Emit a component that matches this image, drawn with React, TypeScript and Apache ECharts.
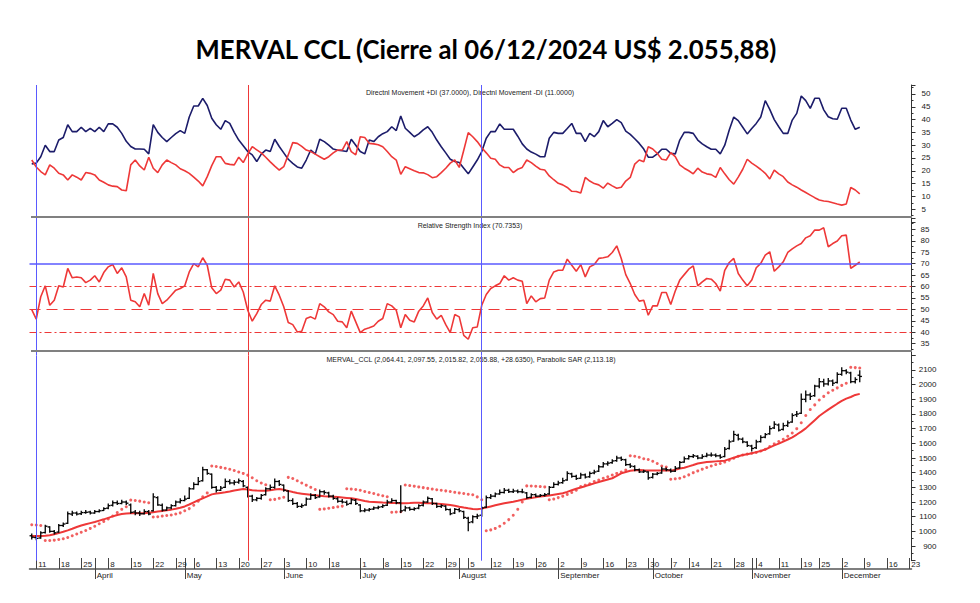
import React, { useEffect, useRef } from "react";
import * as echarts from "echarts";

// ---- categories: trading days (month, day list) ----
const MONTH_DAYS: [number, number[]][] = [
  [3, [8, 11, 12, 13, 14, 15, 18, 19, 20, 21, 22, 25, 26, 27]],
  [4, [3, 4, 5, 8, 9, 10, 11, 12, 15, 16, 17, 18, 19, 22, 23, 24, 25, 26, 29, 30]],
  [5, [2, 3, 6, 7, 8, 9, 10, 13, 14, 15, 16, 17, 20, 21, 22, 23, 24, 27, 28, 29, 30, 31]],
  [6, [3, 4, 5, 6, 7, 10, 11, 12, 13, 14, 18, 19, 24, 25, 26, 27, 28]],
  [7, [1, 2, 3, 4, 5, 8, 10, 11, 12, 15, 16, 17, 18, 19, 22, 23, 24, 25, 26, 29, 30, 31]],
  [8, [1, 2, 5, 6, 7, 8, 9, 12, 13, 14, 15, 16, 19, 20, 21, 22, 23, 26, 27, 28, 29, 30]],
  [9, [2, 3, 4, 5, 6, 9, 10, 11, 12, 13, 16, 17, 18, 19, 20, 23, 24, 25, 26, 27, 30]],
  [10, [1, 2, 3, 4, 7, 8, 9, 10, 14, 15, 16, 17, 18, 21, 22, 23, 24, 25, 28, 29, 30, 31]],
  [11, [1, 4, 5, 6, 7, 8, 11, 12, 13, 14, 15, 19, 20, 21, 22, 25, 26, 27, 28, 29]],
  [12, [2, 3, 4, 5, 6, 9, 10, 11, 12, 13, 16, 17, 18, 19, 20, 23]],
];
const MONTH_NAMES = ["", "January", "February", "March", "April", "May", "June", "July", "August", "September", "October", "November", "December"];
const pad = (n: number) => (n < 10 ? "0" + n : String(n));
const categories: string[] = [];
MONTH_DAYS.forEach(([m, days]) => days.forEach((d) => categories.push(`2024-${pad(m)}-${pad(d)}`)));

// tick labels
const weekLabelDates = [
  "03-11", "03-18", "03-25", "04-08", "04-15", "04-22", "04-29", "05-06", "05-13", "05-20", "05-27",
  "06-03", "06-10", "06-18", "07-01", "07-08", "07-15", "07-22", "07-29", "08-05", "08-12", "08-19", "08-26",
  "09-02", "09-09", "09-16", "09-23", "09-30", "10-07", "10-14", "10-21", "10-28", "11-04", "11-11", "11-19", "11-25",
  "12-02", "12-09", "12-16", "12-23",
].map((s) => "2024-" + s);
const monthStartDates = ["04-03", "05-02", "06-03", "07-01", "08-01", "09-02", "10-01", "11-01", "12-02"].map((s) => "2024-" + s);
const blueMarkers = ["2024-03-11", "2024-08-08"];
const redMarkers = ["2024-05-22"];

// ---- indicator values ----
const plusDI = [
  22.7, 23, 25.5, 30, 27.5, 27.5, 32, 33, 38, 35.3,
  35.3, 37, 35.3, 36.6, 35.3, 37, 35.3, 38.3, 38.3, 37,
  34.6, 31.5, 29.5, 28.5, 28.5, 28.4, 26.6, 38, 35, 33,
  31.4, 33, 34.5, 35.7, 34.6, 41, 45.3, 45.3, 48.3, 45.5,
  40.5, 38, 36.2, 39.6, 38.5, 35, 32, 29.8, 27.5, 26.2,
  23.6, 26.5, 28.1, 27.5, 32.3, 29.5, 27, 24.5, 22.9, 21.5,
  21, 24.2, 28.1, 26.6, 32.3, 31.4, 30, 28.5, 28, 27.8,
  27.5, 32.3, 30, 27.5, 26.6, 32, 31.4, 33.3, 34.5, 35.3,
  37.2, 35.7, 41.4, 36.6, 35, 33.3, 34.4, 36, 37.2, 35,
  32, 29.4, 27, 24.5, 23.6, 23.2, 21, 18.8, 21.5, 24.2,
  27.5, 32.7, 35.3, 35.3, 38.3, 36.2, 36.2, 36.2, 33.5, 30.5,
  28.5, 27.3, 26.5, 25.5, 25.5, 32.7, 35, 34.6, 34.6, 36.5,
  38.5, 34.6, 34.6, 31.4, 34.6, 33.3, 35.3, 39.6, 37.2, 38.5,
  40, 38.8, 35.5, 34.2, 32.5, 30.7, 28.5, 25.3, 25.3, 26.6,
  28.4, 28.4, 26.8, 26.6, 32, 35, 35, 34.6, 32, 30.5,
  29.4, 28.4, 28.4, 26.6, 30, 35.9, 41, 39.6, 37, 34.4,
  36.5, 38.5, 41, 47.4, 44, 40, 37.2, 34.6, 34.6, 39.8,
  42.4, 49.2, 47.4, 44.4, 48.3, 48.3, 43.8, 41.1, 40.3, 40.1,
  44.4, 44.4, 39.8, 36.2, 37,
];
const minusDI = [
  24.2, 21.5, 19.7, 18.4, 22.3, 21, 19, 18.4, 16.4, 18.4,
  17.5, 16.4, 19.3, 19, 18.4, 16.4, 15.5, 14.5, 14, 13.8,
  12.5, 12.2, 22.3, 24.2, 21.9, 20.3, 25.3, 21, 19.3, 22.3,
  24.2, 23.2, 22.3, 20.8, 20, 19, 17.5, 16, 14.1, 17.7,
  22, 25.5, 25.5, 22.9, 22.5, 22.3, 25.3, 23.2, 26.6, 29.4,
  28.2, 27, 25.3, 23.5, 21.8, 20.3, 21.6, 26.2, 31, 30.7,
  29.5, 28.1, 27.5, 26.5, 25.5, 24.5, 25.5, 27, 28.1, 28.1,
  31.4, 27.5, 26.2, 33.3, 33, 30.7, 30.5, 30.2, 29.4, 27.5,
  25.5, 24.2, 18.6, 21.6, 20.8, 20, 19.3, 19.2, 18.5, 17.3,
  17.7, 19.3, 21, 23, 24.2, 21.3, 28, 34.9, 33.3, 31.4,
  29, 27, 24.9, 24.5, 22.3, 21.3, 21.3, 19.3, 20.6, 21.3,
  24.2, 23.2, 21.8, 20.6, 20.3, 18, 16.5, 15.1, 14.5, 13.5,
  12, 11.9, 11.3, 17.4, 16, 15, 14.5, 13.2, 15.2, 14.1,
  13.2, 13.6, 16, 17.4, 22.6, 24.2, 23.5, 29.4, 28.5, 26.8,
  24.5, 24.2, 27.1, 25.5, 22.3, 21, 20, 18.8, 21, 19.5,
  18.8, 18.5, 17.4, 21.3, 18.8, 16.5, 14.8, 17.5, 20.6, 24.5,
  23, 21.8, 20.5, 19, 16.8, 20.3, 18.8, 17.7, 15.6, 14.5,
  13.6, 12.5, 11.5, 10.5, 9.5, 8.6, 8.2, 8, 7.5, 7,
  6.6, 7, 13.5, 12.5, 11,
];
const rsi = [
  49.9, 45.7, 55.5, 60.3, 51.8, 54, 60.3, 59.8, 67.9, 63.8,
  64.2, 63.8, 61.7, 62.8, 64.7, 62, 66.1, 68.6, 69.6, 65.7,
  68.2, 64.2, 54, 53.3, 51.1, 56.9, 51.8, 65.7, 56.9, 52.5,
  54, 56.2, 58.4, 59.1, 60.3, 66.4, 70, 68.6, 72.6, 69.3,
  59.4, 56.9, 58.4, 63.2, 62.8, 59.8, 62, 57.6, 49.6, 44.8,
  48.1, 52.1, 54, 53.6, 60.3, 56.2, 51.1, 44.2, 43.3, 40.1,
  40.4, 46, 46.7, 45.7, 52.5, 51.1, 48.9, 47.7, 44.8, 44.5,
  41.9, 49.2, 44.5, 39.8, 41.3, 41.9, 42.7, 44.8, 46, 52.5,
  51.5, 49.6, 41.9, 47.7, 45.2, 44.5, 49.2, 51.5, 55, 48.6,
  45.7, 47.4, 43.3, 39.8, 47.7, 46.7, 38.6, 36.9, 41.9, 42.3,
  51.8, 56.5, 59.1, 60.3, 61.3, 64.7, 62.8, 63.8, 62.8, 62.3,
  52.5, 55.9, 53.3, 54.7, 55, 62.8, 66.4, 67.1, 67.1, 72,
  69.3, 66.7, 69.6, 64.2, 68.6, 69.6, 72.3, 72.6, 73, 74.9,
  77.8, 72.3, 65.2, 61.3, 56.5, 53.6, 54, 47.4, 51.5, 51.5,
  57.4, 57.4, 52.1, 58, 62.8, 65.2, 67.6, 69, 60.3, 62,
  63.5, 63.2, 61.3, 58, 67.1, 70.5, 72.3, 65.7, 62.8, 60.3,
  62.8, 68.2, 70.1, 73.7, 75.2, 66.7, 68.6, 70.8, 74.9, 76.5,
  77.8, 78.8, 81.3, 82.2, 84.7, 84.7, 85.7, 77.4, 78.8, 79.9,
  82.2, 82.5, 67.9, 69.3, 70.7353,
];
const rsiLevels = [70, 60, 50, 40];

// ---- price: [open, high, low, close] ----
const ohlc: number[][] = [
  [970, 985, 945, 960], [958, 975, 940, 952], [955, 1000, 950, 990], [992, 1045, 985, 1035], [1030, 1035, 990, 1000],
  [1000, 1010, 978, 990], [995, 1050, 990, 1040], [1040, 1060, 1030, 1050], [1055, 1135, 1050, 1120], [1118, 1140, 1105, 1125],
  [1125, 1135, 1108, 1118], [1120, 1140, 1112, 1128], [1128, 1145, 1120, 1130], [1132, 1140, 1115, 1125], [1125, 1145, 1120, 1135],
  [1135, 1150, 1128, 1140], [1142, 1165, 1138, 1155], [1158, 1190, 1150, 1175], [1178, 1210, 1170, 1195], [1195, 1210, 1180, 1190],
  [1190, 1215, 1185, 1200], [1200, 1210, 1180, 1192], [1180, 1190, 1120, 1130], [1132, 1145, 1110, 1125], [1125, 1140, 1105, 1120],
  [1120, 1150, 1115, 1135], [1135, 1145, 1110, 1118], [1140, 1260, 1135, 1235], [1230, 1240, 1175, 1180], [1178, 1190, 1135, 1145],
  [1145, 1170, 1140, 1160], [1160, 1185, 1150, 1175], [1175, 1210, 1170, 1200], [1200, 1225, 1190, 1210], [1210, 1245, 1205, 1220],
  [1225, 1300, 1220, 1290], [1290, 1335, 1285, 1320], [1320, 1370, 1315, 1340], [1345, 1440, 1340, 1420], [1420, 1425, 1385, 1395],
  [1390, 1395, 1290, 1300], [1300, 1310, 1265, 1280], [1280, 1310, 1275, 1295], [1300, 1360, 1295, 1340], [1340, 1355, 1320, 1330],
  [1330, 1350, 1315, 1335], [1335, 1360, 1325, 1345], [1340, 1350, 1300, 1310], [1300, 1305, 1230, 1240], [1240, 1250, 1200, 1215],
  [1215, 1235, 1205, 1225], [1225, 1255, 1215, 1245], [1250, 1300, 1245, 1290], [1290, 1320, 1280, 1300], [1300, 1360, 1290, 1340],
  [1340, 1350, 1310, 1320], [1315, 1320, 1270, 1280], [1275, 1280, 1200, 1210], [1210, 1225, 1180, 1190], [1190, 1200, 1160, 1170],
  [1170, 1190, 1160, 1175], [1180, 1230, 1175, 1220], [1220, 1260, 1215, 1245], [1245, 1255, 1220, 1230], [1235, 1285, 1230, 1270],
  [1270, 1280, 1250, 1265], [1262, 1270, 1230, 1240], [1240, 1250, 1215, 1225], [1222, 1232, 1195, 1205], [1205, 1220, 1190, 1200],
  [1198, 1210, 1175, 1185], [1190, 1225, 1185, 1215], [1212, 1220, 1180, 1190], [1180, 1185, 1130, 1140], [1140, 1158, 1130, 1145],
  [1145, 1160, 1135, 1150], [1152, 1170, 1145, 1160], [1160, 1175, 1150, 1165], [1168, 1185, 1160, 1175], [1178, 1215, 1172, 1200],
  [1200, 1225, 1195, 1210], [1210, 1215, 1185, 1195], [1195, 1315, 1125, 1140], [1145, 1175, 1135, 1160], [1160, 1168, 1140, 1150],
  [1150, 1165, 1140, 1155], [1158, 1185, 1150, 1175], [1178, 1210, 1170, 1200], [1200, 1238, 1195, 1225], [1222, 1228, 1180, 1190],
  [1190, 1195, 1160, 1170], [1170, 1185, 1160, 1175], [1172, 1178, 1140, 1150], [1148, 1155, 1110, 1120], [1125, 1160, 1118, 1150],
  [1148, 1160, 1130, 1140], [1135, 1140, 1085, 1095], [1090, 1100, 1000, 1060], [1065, 1110, 1055, 1100], [1100, 1120, 1085, 1105],
  [1110, 1170, 1100, 1160], [1165, 1245, 1160, 1230], [1230, 1255, 1220, 1240], [1240, 1265, 1232, 1255], [1255, 1285, 1250, 1265],
  [1265, 1295, 1258, 1280], [1280, 1290, 1262, 1270], [1270, 1290, 1262, 1275], [1275, 1285, 1260, 1270], [1270, 1290, 1260, 1268],
  [1262, 1268, 1222, 1230], [1232, 1260, 1225, 1250], [1250, 1258, 1232, 1240], [1240, 1255, 1235, 1245], [1245, 1262, 1238, 1250],
  [1255, 1310, 1250, 1300], [1300, 1335, 1295, 1320], [1320, 1345, 1312, 1330], [1332, 1365, 1325, 1345], [1350, 1410, 1345, 1395],
  [1392, 1400, 1365, 1375], [1375, 1385, 1350, 1360], [1362, 1400, 1358, 1385], [1385, 1395, 1360, 1370], [1372, 1408, 1365, 1395],
  [1398, 1420, 1390, 1405], [1410, 1452, 1405, 1440], [1440, 1472, 1435, 1460], [1460, 1478, 1448, 1465], [1468, 1492, 1460, 1480],
  [1482, 1515, 1475, 1500], [1500, 1510, 1480, 1490], [1488, 1495, 1445, 1455], [1455, 1465, 1432, 1445], [1442, 1450, 1410, 1420],
  [1420, 1428, 1398, 1405], [1405, 1420, 1398, 1410], [1405, 1410, 1352, 1365], [1368, 1398, 1360, 1390], [1390, 1405, 1382, 1395],
  [1398, 1440, 1392, 1425], [1425, 1435, 1410, 1420], [1418, 1428, 1400, 1410], [1410, 1445, 1405, 1430], [1432, 1480, 1428, 1470],
  [1472, 1510, 1468, 1495], [1495, 1520, 1490, 1510], [1510, 1528, 1500, 1515], [1512, 1518, 1492, 1500], [1500, 1525, 1495, 1510],
  [1512, 1535, 1505, 1520], [1520, 1538, 1508, 1520], [1520, 1530, 1505, 1515], [1515, 1525, 1495, 1505], [1510, 1575, 1505, 1560],
  [1565, 1625, 1558, 1610], [1615, 1685, 1610, 1660], [1655, 1665, 1620, 1630], [1628, 1640, 1600, 1610], [1608, 1615, 1575, 1585],
  [1582, 1590, 1545, 1565], [1570, 1625, 1562, 1610], [1612, 1655, 1605, 1640], [1642, 1670, 1635, 1660], [1665, 1720, 1658, 1700],
  [1705, 1750, 1698, 1730], [1725, 1735, 1680, 1690], [1695, 1740, 1688, 1720], [1722, 1755, 1712, 1740], [1745, 1805, 1740, 1790],
  [1795, 1820, 1780, 1800], [1805, 1940, 1800, 1900], [1900, 1960, 1880, 1930], [1930, 1945, 1895, 1920], [1925, 2000, 1918, 1990],
  [1990, 2045, 1975, 2020], [2020, 2040, 1985, 2005], [2005, 2045, 1995, 2025], [2025, 2035, 1990, 2010], [2015, 2085, 2008, 2070],
  [2070, 2118, 2060, 2095], [2095, 2105, 2070, 2085], [2080, 2088, 2010, 2020], [2020, 2050, 2008, 2035], [2064.41, 2097.55, 2015.82, 2055.88],
];
const sar = [
  1045, 1043, 1040, 938, 938, 940, 944, 950, 958, 970,
  982, 994, 1006, 1020, 1035, 1052, 1068, 1085, 1105, 1128,
  1150, 1168, 1213, 1210, 1206, 1200, 1195, 1098, 1100, 1104,
  1108, 1112, 1118, 1126, 1140, 1155, 1178, 1205, 1235, 1262,
  1445, 1442, 1436, 1430, 1423, 1415, 1405, 1395, 1383, 1365,
  1345, 1330, 1318, 1215, 1218, 1225, 1232, 1368, 1360, 1345,
  1330, 1315, 1300, 1285, 1150, 1153, 1157, 1162, 1167, 1172,
  1290, 1288, 1285, 1280, 1272, 1265, 1258, 1250, 1243, 1236,
  1130, 1132, 1134, 1316, 1312, 1308, 1303, 1298, 1293, 1288,
  1284, 1280, 1276, 1272, 1266, 1262, 1258, 1253, 1250, 1235,
  1215, 1004, 1010, 1020, 1035, 1055, 1080, 1110, 1150, 1200,
  1310, 1309, 1307, 1305, 1303, 1215, 1220, 1230, 1240, 1252,
  1265, 1280, 1305, 1315, 1325, 1340, 1350, 1362, 1372, 1384,
  1395, 1405, 1418, 1515, 1512, 1505, 1495, 1490, 1478, 1462,
  1445, 1438, 1355, 1358, 1362, 1372, 1385, 1400, 1412, 1424,
  1435, 1445, 1455, 1463, 1472, 1485, 1498, 1512, 1520, 1527,
  1532, 1538, 1548, 1560, 1578, 1596, 1612, 1628, 1648, 1670,
  1700, 1740, 1790, 1830, 1862, 1895, 1920, 1945, 1962, 1978,
  1995, 2010, 2118, 2116, 2113.18,
];
const movingAvg = [
  968, 968, 968, 970, 973, 980, 988, 997, 1007, 1018,
  1030, 1040, 1048, 1056, 1064, 1073, 1082, 1092, 1102, 1112,
  1118, 1122, 1123, 1123, 1123, 1124, 1127, 1131, 1135, 1139,
  1143, 1148, 1154, 1161, 1170, 1183, 1198, 1212, 1225, 1238,
  1252, 1258, 1262, 1266, 1272, 1279, 1284, 1288, 1286, 1280,
  1278, 1277, 1277, 1280, 1285, 1288, 1283, 1276, 1268, 1261,
  1257, 1253, 1249, 1246, 1243, 1240, 1238, 1236, 1234, 1231,
  1228, 1225, 1220, 1214, 1207, 1202, 1200, 1198, 1196, 1195,
  1194, 1193, 1191, 1192, 1193, 1195, 1195, 1194, 1192, 1191,
  1189, 1186, 1183, 1180, 1175, 1168, 1162, 1157, 1153, 1150,
  1155, 1162, 1170, 1178, 1185, 1191, 1197, 1202, 1208, 1215,
  1222, 1228, 1232, 1237, 1241, 1245, 1250, 1255, 1260, 1269,
  1280, 1290, 1299, 1308, 1318, 1327, 1336, 1345, 1354, 1362,
  1378, 1395, 1405, 1413, 1417, 1418, 1416, 1415, 1414, 1414,
  1414, 1414, 1414, 1420, 1428, 1434, 1443, 1452, 1462, 1468,
  1472, 1475, 1477, 1479, 1482, 1492, 1502, 1512, 1520, 1526,
  1532, 1540, 1548, 1558, 1572, 1586, 1598, 1612, 1626, 1641,
  1660, 1680, 1702, 1730, 1758, 1786, 1808, 1830, 1850, 1870,
  1889, 1905, 1916, 1930, 1937,
];

const RED = "#ee3838";
const NAVY = "#1c1c6a";
const BLUE = "#5a5aff";
const SANS = "Liberation Sans, Arial, sans-serif";

export default function App() {
  const ref = useRef<HTMLDivElement>(null);
  useEffect(() => {
    document.body.style.margin = "0";
    const chart = echarts.init(ref.current!, null, { renderer: "svg" });
    const weekSet = new Set(weekLabelDates);
    const monthSet = new Set(monthStartDates);

    const vLines = {
      symbol: ["none", "none"],
      silent: true,
      label: { show: false },
      animation: false,
      data: [
        ...blueMarkers.map((d) => ({ xAxis: d, lineStyle: { color: BLUE, width: 1, type: "solid" } })),
        ...redMarkers.map((d) => ({ xAxis: d, lineStyle: { color: RED, width: 1, type: "solid" } })),
      ],
    };
    const rsiStyles: Record<number, any> = {
      70: { color: BLUE, width: 1.5, type: "solid" },
      60: { color: RED, width: 1, type: [7, 3, 2, 3] },
      50: { color: RED, width: 1, type: [11, 6] },
      40: { color: RED, width: 1, type: [7, 3, 2, 3] },
    };

    const hiddenX = (gi: number) => ({
      gridIndex: gi,
      type: "category",
      data: categories,
      boundaryGap: true,
      axisLine: { show: false },
      axisTick: { show: false },
      axisLabel: { show: false },
      splitLine: { show: false },
    });
    const yBase = (gi: number, min: number, max: number, interval: number, lo: number, hi: number, align: string, margin: number) => ({
      gridIndex: gi,
      type: "value",
      position: "right",
      min,
      max,
      interval,
      splitLine: { show: false },
      axisLine: { show: true, lineStyle: { color: "#333", width: 1 } },
      axisTick: { show: true, length: 4, lineStyle: { color: "#333" } },
      minorTick: { show: true, splitNumber: 2, length: 2, lineStyle: { color: "#333" } },
      axisLabel: {
        fontSize: 8,
        fontFamily: SANS,
        color: "#222",
        align,
        margin,
        formatter: (v: number) => (v >= lo && v <= hi && Math.abs(v % interval) < 1e-6 ? String(v) : ""),
      },
    });

    chart.setOption({
      animation: false,
      backgroundColor: "#fff",
      grid: [
        { left: 29.5, right: 68.5, top: 85, height: 137 },
        { left: 29.5, right: 68.5, top: 218, height: 137 },
        { left: 29.5, right: 68.5, top: 355.3, height: 205.4 },
      ],
      xAxis: [
        hiddenX(0),
        hiddenX(1),
        {
          gridIndex: 2,
          type: "category",
          data: categories,
          boundaryGap: true,
          position: "bottom",
          offset: 8.3,
          axisLine: { show: true, lineStyle: { color: "#555", width: 1.5 } },
          axisTick: {
            show: true,
            inside: true,
            length: 11,
            alignWithLabel: true,
            interval: (i: number, v: string) => weekSet.has(v) || monthSet.has(v),
            lineStyle: { color: "#444" },
          },
          axisLabel: {
            inside: true,
            interval: (i: number, v: string) => weekSet.has(v),
            formatter: (v: string) => String(parseInt(v.slice(8), 10)),
            align: "left",
            padding: [0, 0, 0, 2],
            margin: 1,
            fontSize: 8,
            fontFamily: SANS,
            color: "#222",
          },
          splitLine: { show: false },
        },
        {
          gridIndex: 2,
          type: "category",
          data: categories,
          boundaryGap: true,
          position: "bottom",
          offset: 8.3,
          axisLine: { show: false },
          axisTick: {
            show: true,
            length: 10,
            alignWithLabel: true,
            interval: (i: number, v: string) => monthSet.has(v),
            lineStyle: { color: "#444" },
          },
          axisLabel: {
            interval: (i: number, v: string) => monthSet.has(v),
            formatter: (v: string) => MONTH_NAMES[parseInt(v.slice(5, 7), 10)],
            align: "left",
            padding: [0, 0, 0, 2],
            margin: 2,
            fontSize: 8,
            fontFamily: SANS,
            color: "#222",
          },
          splitLine: { show: false },
        },
      ],
      yAxis: [
        yBase(0, 0, 53.5, 5, 5, 50, "left", 10),
        yBase(1, 30, 90, 5, 35, 85, "left", 9),
        yBase(2, 800, 2200, 100, 900, 2100, "right", 25),
      ],
      series: [
        {
          name: "+DI",
          type: "line",
          xAxisIndex: 0,
          yAxisIndex: 0,
          data: plusDI,
          showSymbol: false,
          lineStyle: { color: NAVY, width: 1.6 },
          itemStyle: { color: NAVY },
          markLine: vLines,
          z: 3,
        },
        {
          name: "-DI",
          type: "line",
          xAxisIndex: 0,
          yAxisIndex: 0,
          data: minusDI,
          showSymbol: false,
          lineStyle: { color: RED, width: 1.6 },
          itemStyle: { color: RED },
          z: 3,
        },
        {
          name: "RSI",
          type: "line",
          xAxisIndex: 1,
          yAxisIndex: 1,
          data: rsi,
          showSymbol: false,
          lineStyle: { color: RED, width: 1.6 },
          itemStyle: { color: RED },
          z: 3,
          markLine: {
            symbol: ["none", "none"],
            silent: true,
            label: { show: false },
            animation: false,
            data: [
              ...rsiLevels.map((lv) => ({ yAxis: lv, lineStyle: rsiStyles[lv] })),
              ...vLines.data,
            ],
          },
        },
        {
          name: "MA",
          type: "line",
          xAxisIndex: 2,
          yAxisIndex: 2,
          data: movingAvg,
          showSymbol: false,
          lineStyle: { color: RED, width: 2 },
          itemStyle: { color: RED },
          z: 2,
          markLine: vLines,
        },
        {
          name: "SAR",
          type: "scatter",
          xAxisIndex: 2,
          yAxisIndex: 2,
          data: sar,
          symbol: "circle",
          symbolSize: 3,
          itemStyle: { color: RED },
          z: 3,
        },
        {
          name: "MERVAL_CCL",
          type: "custom",
          xAxisIndex: 2,
          yAxisIndex: 2,
          data: ohlc.map((r, i) => [i, r[0], r[1], r[2], r[3]]),
          encode: { x: 0, y: [1, 2, 3, 4] },
          z: 4,
          renderItem: (params: any, api: any) => {
            const i = api.value(0);
            const pO = api.coord([i, api.value(1)]);
            const pH = api.coord([i, api.value(2)]);
            const pL = api.coord([i, api.value(3)]);
            const pC = api.coord([i, api.value(4)]);
            const st = { stroke: "#000", lineWidth: 1.3 };
            return {
              type: "group",
              children: [
                { type: "line", shape: { x1: pH[0], y1: pH[1], x2: pL[0], y2: pL[1] }, style: st },
                { type: "line", shape: { x1: pO[0] - 2.2, y1: pO[1], x2: pO[0], y2: pO[1] }, style: st },
                { type: "line", shape: { x1: pC[0], y1: pC[1], x2: pC[0] + 2.2, y2: pC[1] }, style: st },
              ],
            };
          },
        },
      ],
      graphic: [
        { type: "line", shape: { x1: 31, y1: 217, x2: 912, y2: 217 }, style: { stroke: "#808080", lineWidth: 2 }, silent: true, z: 10 },
        { type: "line", shape: { x1: 31, y1: 351, x2: 912, y2: 351 }, style: { stroke: "#808080", lineWidth: 2 }, silent: true, z: 10 },
        {
          type: "text",
          x: 486,
          y: 49,
          style: {
            text: "MERVAL CCL (Cierre al 06/12/2024 US$ 2.055,88)",
            align: "center",
            verticalAlign: "middle",
            font: "bold 25.7px Lato, 'Liberation Sans', sans-serif",
            fill: "#000",
          },
        },
        {
          type: "text",
          x: 470,
          y: 92,
          style: {
            text: "Directnl Movement +DI (37.0000), Directnl Movement -DI (11.0000)",
            align: "center",
            verticalAlign: "middle",
            font: "7px " + SANS,
            fill: "#222",
          },
        },
        {
          type: "text",
          x: 470,
          y: 225,
          style: {
            text: "Relative Strength Index (70.7353)",
            align: "center",
            verticalAlign: "middle",
            font: "7px " + SANS,
            fill: "#222",
          },
        },
        {
          type: "text",
          x: 471,
          y: 359,
          style: {
            text: "MERVAL_CCL (2,064.41, 2,097.55, 2,015.82, 2,055.88, +28.6350), Parabolic SAR (2,113.18)",
            align: "center",
            verticalAlign: "middle",
            font: "7px " + SANS,
            fill: "#222",
          },
        },
      ],
    });
    return () => chart.dispose();
  }, []);
  return <div ref={ref} style={{ position: "absolute", left: 0, top: 0, width: 980, height: 603, background: "#fff" }} />;
}
